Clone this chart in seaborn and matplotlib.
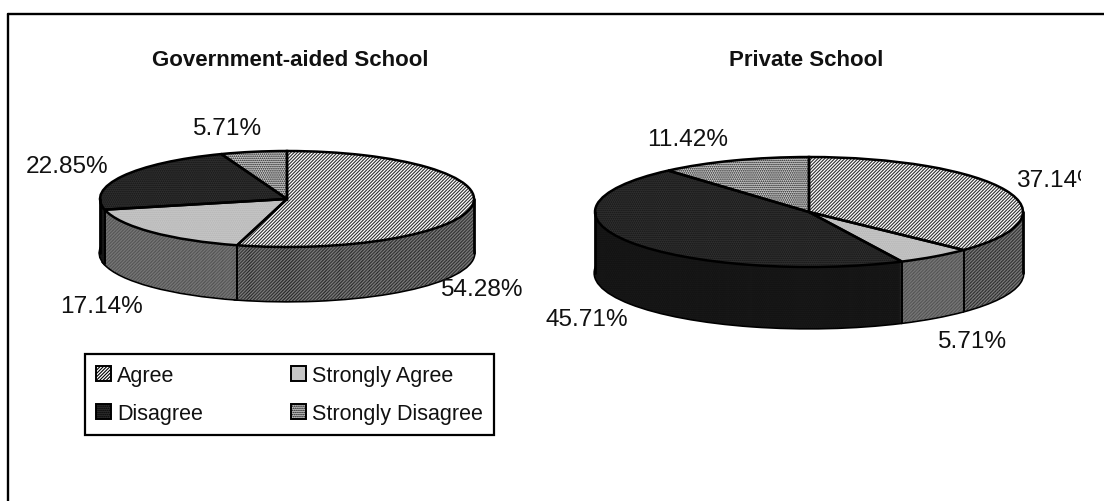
import numpy as np
import matplotlib
matplotlib.use("Agg")
import matplotlib.pyplot as plt
from matplotlib.lines import Line2D
from matplotlib.patches import Patch
from matplotlib.transforms import Bbox
import seaborn as sns

sns.set_theme(style="white")
plt.rcParams['font.family'] = ['Liberation Sans', 'DejaVu Sans']
plt.rcParams['hatch.linewidth'] = 0.8

W, H = 1104, 502
categories = ["Agree", "Strongly Agree", "Disagree", "Strongly Disagree"]
government_aided = [54.28, 17.14, 22.85, 5.71]
private_school = [37.14, 5.71, 45.71, 11.42]
titles = ["Government-aided School", "Private School"]

top_fc = ["#ffffff", "#c6c6c6", "#303030", "#d0d0d0"]
top_ec = ["#2e2e2e", "#b4b4b4", "#141414", "#141414"]
side_fc = ["#7c7c7c", "#787878", "#131313", "#555555"]
side_ec = ["#242424", "#505050", "#1c1c1c", "#222222"]
top_hatch = ["/" * 10, "." * 8, "." * 8, "." * 8]
side_hatch = ["/" * 10, "/" * 10, "." * 8, "." * 8]
legend_hatch = ["/" * 10, None, "." * 8, "." * 8]

fig = plt.figure(figsize=(W / 100, H / 100), dpi=100, facecolor="white")


def px_axes(x0, y0, x1, y1):
    return fig.add_axes([x0 / W, 1 - y1 / H, (x1 - x0) / W, (y1 - y0) / H])


def pie3d(vals, cx, cy, rx, ry, depth):
    d = depth / ry
    ax = px_axes(cx - rx, cy - ry, cx + rx, cy + ry + depth)
    kw = dict(startangle=90, counterclock=False, radius=1)
    ax.pie(vals, center=(0, -d), colors=["white"] * 4,
           wedgeprops=dict(edgecolor="black", linewidth=2.4), **kw)
    for k in np.arange(depth, 0, -1.0):
        w, _ = ax.pie(vals, center=(0, -k / ry), colors=side_fc, **kw)
        for p, ec, h in zip(w, side_ec, side_hatch):
            p.set_edgecolor(ec)
            p.set_hatch(h)
            p.set_linewidth(0)
    cum = np.cumsum(vals) / np.sum(vals) * 2 * np.pi
    for a in cum:
        if np.cos(a) < 0:
            ax.plot([np.sin(a)] * 2, [np.cos(a), np.cos(a) - d], color="black", lw=1.4, clip_on=False)
    for s in (-1, 1):
        ax.plot([s, s], [0, -d], color="black", lw=2, clip_on=False)
    w, _ = ax.pie(vals, colors=top_fc, **kw)
    for p, ec, h in zip(w, top_ec, top_hatch):
        p.set_edgecolor(ec)
        p.set_hatch(h)
        p.set_linewidth(0)
    ax.pie(vals, colors=top_fc, wedgeprops=dict(fill=False, edgecolor="black", linewidth=1.8), **kw)
    ax.set_aspect("auto")
    ax.set_xlim(-1, 1)
    ax.set_ylim(-1 - d, 1)
    ax.axis("off")
    for art in ax.patches:
        art.set_clip_on(False)


pie3d(government_aided, 287, 200, 187, 48, 54)
pie3d(private_school, 809, 213, 214, 55, 61)


def px_text(x, y, s, size, **kw):
    return fig.text(x / W, 1 - y / H, s, ha="center", va="center", fontsize=size, color="#111111", **kw)


left_pos = [(481, 290), (102, 307), (67, 167), (227, 129)]
right_pos = [(1057, 181), (972, 342), (587, 320), (688, 140)]
for vals, pos in zip((government_aided, private_school), (left_pos, right_pos)):
    for v, (x, y) in zip(vals, pos):
        t = px_text(x, y, f"{v:.2f}%", 17.6)
        t.set_clip_box(Bbox([[0, 0], [1081, H]]))
        t.set_clip_on(True)

px_text(290, 61, titles[0], 16, fontweight="bold")
px_text(806, 61, titles[1], 16, fontweight="bold")

# the frame is open: only its top and left rules fall inside the picture
fig.add_artist(Line2D([8 / W, 8 / W], [0, 1 - 15 / H], transform=fig.transFigure, color="black", lw=1.7))
fig.add_artist(Line2D([8 / W, 1], [1 - 15 / H, 1 - 15 / H], transform=fig.transFigure, color="black", lw=1.7))

handles = [Patch(facecolor=top_fc[i], edgecolor="black", hatch=legend_hatch[i], linewidth=1.4) for i in range(4)]
order = [0, 2, 1, 3]
leg = fig.legend([handles[i] for i in order], [categories[i] for i in order], ncol=2,
                 loc="lower left", bbox_to_anchor=(85 / W, 1 - 436 / H), fontsize=15.5,
                 fancybox=False, framealpha=1, edgecolor="black", handlelength=0.7, handleheight=0.7,
                 handletextpad=0.28, columnspacing=4.1, labelspacing=0.82, borderaxespad=0, borderpad=0.5)
leg.get_frame().set_linewidth(1.6)
for txt in leg.get_texts():
    txt.set_color("#111111")

fig.savefig("out.png", dpi=100)
